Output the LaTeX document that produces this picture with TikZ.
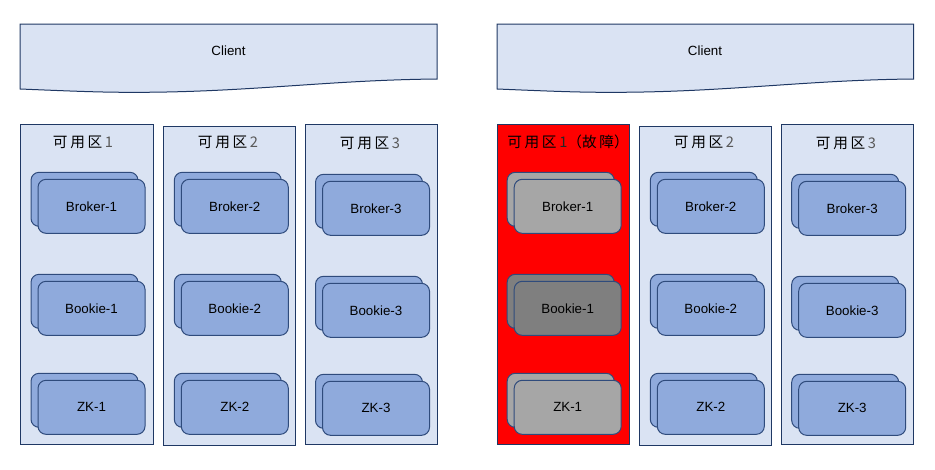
\documentclass[tikz,border=0pt]{standalone}
\usepackage{fontspec}
\setmainfont{Liberation Sans}
\newfontfamily\zhfont{Noto Sans CJK SC}
\usetikzlibrary{shadows}

\definecolor{zonefill}{HTML}{DAE3F3}
\definecolor{zoneline}{HTML}{1F3864}
\definecolor{cardfill}{HTML}{8FAADC}
\definecolor{cardline}{HTML}{2F4B7C}
\definecolor{downgrey}{HTML}{A6A6A6}
\definecolor{darkgrey}{HTML}{7F7F7F}
\definecolor{faultred}{HTML}{FF0000}

% spacing between the CJK glyphs of a zone title
\newcommand\zsp{\kern2pt}

\begin{document}
\begin{tikzpicture}[
    x=0.75pt, y=-0.75pt,
    font=\fontsize{10}{12}\selectfont,
    zone/.style={draw=zoneline, fill=zonefill, line width=0.75pt},
    zonetitle/.style={font=\zhfont\fontsize{11}{13}\selectfont},
    card/.style={rectangle, rounded corners=6pt, draw=cardline, fill=#1,
      line width=0.75pt, minimum width=80.25pt, minimum height=40.5pt,
      general shadow={shadow xshift=-5.25pt, shadow yshift=5.25pt,
        fill=#1, draw=cardline, line width=0.75pt}},
    card/.default=cardfill
  ]
    \useasboundingbox (0,0) rectangle (935,469);

    % Left: clients
    \draw[zone] (20,24) -- (437,24) -- (437,79)
      .. controls (330,80) and (250,92) .. (140,92.3)
      .. controls (100,92.5) and (70,91) .. (20,89) -- cycle;
    \node (lclient) at (228.5,51) {Client};

    % Left: zones
    \draw[zone] (20,124) rectangle (153,444);
    \draw[zone] (163,126) rectangle (295,445);
    \draw[zone] (305,124) rectangle (437,444);
    \node[zonetitle] (lzone1) at (83,142) {可\zsp{}用\zsp{}区\zsp{}\textcolor{black!65}{1}};
    \node[zonetitle] (lzone2) at (228,142) {可\zsp{}用\zsp{}区\zsp{}\textcolor{black!65}{2}};
    \node[zonetitle] (lzone3) at (370,143) {可\zsp{}用\zsp{}区\zsp{}\textcolor{black!65}{3}};

    % Left: brokers, bookies, zookeepers
    \node[card] (lbroker1) at (91.5,206.3) {Broker-1};
    \node[card] (lbookie1) at (91.5,308.3) {Bookie-1};
    \node[card] (lzk1) at (91.5,407.3) {ZK-1};
    \node[card] (lbroker2) at (234.8,206.3) {Broker-2};
    \node[card] (lbookie2) at (234.8,308.3) {Bookie-2};
    \node[card] (lzk2) at (234.8,407.3) {ZK-2};
    \node[card] (lbroker3) at (376,208.3) {Broker-3};
    \node[card] (lbookie3) at (376,310.3) {Bookie-3};
    \node[card] (lzk3) at (376,408.3) {ZK-3};

    % Right: clients
    \draw[zone] (497,24) -- (913.5,24) -- (913.5,79)
      .. controls (807,80) and (727,92) .. (617,92.3)
      .. controls (577,92.5) and (547,91) .. (497,89) -- cycle;
    \node (rclient) at (705,51) {Client};

    % Right: zones (first one down)
    \draw[zone, fill=faultred] (497,124) rectangle (629,444);
    \draw[zone] (639,126) rectangle (771,445);
    \draw[zone] (781,124) rectangle (913,444);
    \node[zonetitle] (rzone1) at (568,142) {可\zsp{}用\zsp{}区\zsp{}\textcolor{black!85}{1}（故\zsp{}障）};
    \node[zonetitle] (rzone2) at (704,142) {可\zsp{}用\zsp{}区\zsp{}\textcolor{black!65}{2}};
    \node[zonetitle] (rzone3) at (846,143) {可\zsp{}用\zsp{}区\zsp{}\textcolor{black!65}{3}};

    % Right: brokers, bookies, zookeepers
    \node[card=downgrey] (rbroker1) at (567.7,206.3) {Broker-1};
    \node[card=darkgrey] (rbookie1) at (567.7,308.3) {Bookie-1};
    \node[card=downgrey] (rzk1) at (567.7,407.3) {ZK-1};
    \node[card] (rbroker2) at (710.8,206.3) {Broker-2};
    \node[card] (rbookie2) at (710.8,308.3) {Bookie-2};
    \node[card] (rzk2) at (710.8,407.3) {ZK-2};
    \node[card] (rbroker3) at (852.2,208.3) {Broker-3};
    \node[card] (rbookie3) at (852.2,310.3) {Bookie-3};
    \node[card] (rzk3) at (852.2,408.3) {ZK-3};
  \end{tikzpicture}
\end{document}
